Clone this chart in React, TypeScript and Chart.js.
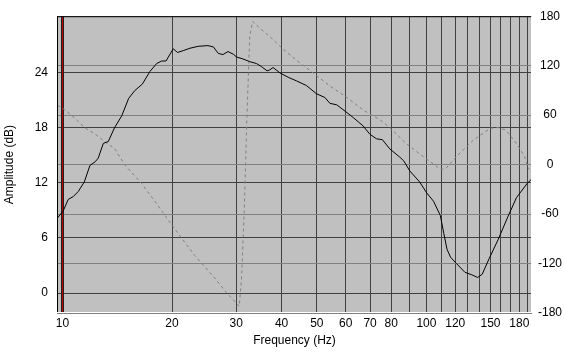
import React, { useEffect, useRef } from 'react';
import { Chart, registerables } from 'chart.js';
Chart.register(...registerables);

const ampFreq = [9.7, 10.05, 10.37, 10.7, 11.05, 11.48, 11.9, 12.3, 12.54, 12.95, 13.36, 13.9, 14.55, 15.2, 15.8, 16.57, 17.4, 18.15, 18.73, 19.25, 20.15, 20.7, 21.47, 22.4, 23.6, 25.1, 25.98, 26.8, 27.6, 28.5, 29.5, 30.1, 31.3, 32.7, 34.1, 35.2, 36.5, 37.1, 37.9, 39.6, 41.7, 44.0, 46.8, 49.9, 52.6, 54.3, 56.7, 59.8, 63.0, 67.0, 69.9, 72.9, 75.7, 79.3, 84.5, 86.6, 90.0, 95.8, 100.2, 104.6, 109.2, 111.6, 113.9, 116.5, 121.0, 127.6, 133.3, 138.2, 142.3, 148.6, 157.3, 167.2, 176.8, 188.8, 195.5];
const ampDb = [8.2, 8.96, 10.2, 10.5, 11.06, 12.1, 13.9, 14.3, 14.7, 16.3, 16.5, 18.0, 19.3, 21.2, 22.05, 22.75, 24.15, 25.0, 25.27, 25.27, 26.6, 26.2, 26.4, 26.66, 26.87, 26.95, 26.8, 26.1, 25.97, 26.3, 26.0, 25.7, 25.5, 25.2, 25.0, 24.67, 24.2, 24.3, 24.56, 23.97, 23.5, 23.1, 22.6, 21.7, 21.3, 20.66, 20.5, 19.8, 19.1, 18.2, 17.3, 16.8, 16.7, 15.7, 14.8, 14.4, 13.3, 12.1, 10.9, 10.0, 8.44, 6.5, 4.77, 3.9, 3.2, 2.26, 1.99, 1.7, 2.05, 3.73, 5.8, 8.27, 10.4, 11.9, 12.5];

const phaseFreq = [9.7, 10.16, 10.8, 11.5, 12.3, 13.1, 13.9, 14.8, 16.5, 17.95, 19.7, 20.15, 23.1, 26.2, 28.2, 30.6, 31.05, 31.6, 32.1, 32.7, 33.3, 34.9, 37.1, 40.4, 44.0, 48.9, 54.3, 60.3, 67.0, 74.4, 79.3, 88.0, 97.9, 109.2, 112.6, 121, 134.3, 149.9, 157.4, 165.5, 176.8, 186, 190, 192];
const phaseDeg = [72, 66.2, 56.5, 44.9, 37, 27.4, 19.6, 0.2, -23, -44.5, -69.7, -75.5, -110.4, -137.6, -155, -171.8, -137.6, -52.6, 54.6, 155.5, 173.6, 165.2, 155.5, 140, 126.4, 111, 95.3, 81.8, 66.2, 54.6, 44.9, 25.4, 9.9, -5.6, -5.6, 9.9, 29.4, 44.1, 45, 41.7, 25.4, 9.9, -3.7, -5.6];

const xGrid = [10, 20, 30, 40, 50, 60, 70, 80, 90, 100, 110, 120, 130, 140, 150, 160, 170, 180, 190];
const xLabels = [10, 20, 30, 40, 50, 60, 70, 80, 100, 120, 150, 180];
const ampTicks = [0, 6, 12, 18, 24];
const phaseTicks = [-180, -120, -60, 0, 60, 120, 180];
const markerFreq = 10;

const FONT = { family: '"Liberation Sans", Arial, sans-serif', size: 12 };

export default function App() {
  const ref = useRef<HTMLCanvasElement>(null);
  useEffect(() => {
    document.body.style.margin = '0';
    const plugin = {
      id: 'frame',
      beforeDraw(chart: any) {
        const { ctx, chartArea: a } = chart;
        ctx.save();
        ctx.fillStyle = '#ffffff';
        ctx.fillRect(0, 0, chart.width, chart.height);
        ctx.fillStyle = '#c0c0c0';
        ctx.fillRect(a.left, a.top, a.right - a.left, a.bottom - a.top);
        ctx.restore();
      },
      beforeDatasetsDraw(chart: any) {
        const { ctx, chartArea: a } = chart;
        const px = Math.floor(chart.scales.x.getPixelForValue(markerFreq));
        ctx.save();
        ctx.fillStyle = '#202020';
        ctx.fillRect(px - 1, a.top, 3, a.bottom - a.top);
        ctx.fillStyle = '#c00000';
        ctx.fillRect(px, a.top, 1, a.bottom - a.top);
        ctx.restore();
      },
      afterDraw(chart: any) {
        const { ctx, chartArea: a } = chart;
        ctx.save();
        ctx.fillStyle = '#000000';
        ctx.fillRect(a.left, a.top, a.right - a.left, 1);
        ctx.fillRect(a.left, a.top, 1, a.bottom - a.top);
        ctx.fillStyle = '#ffffff';
        ctx.fillRect(a.left, a.bottom - 1, a.right - a.left, 1);
        ctx.fillRect(a.right - 1, a.top, 1, a.bottom - a.top);
        ctx.restore();
      },
    };
    const chart = new Chart(ref.current as HTMLCanvasElement, {
      type: 'line',
      data: {
        datasets: [
          {
            data: ampFreq.map((f, i) => ({ x: f, y: ampDb[i] })),
            borderColor: '#000000',
            borderWidth: 1,
            pointRadius: 0,
            tension: 0,
            yAxisID: 'y',
          },
          {
            data: phaseFreq.map((f, i) => ({ x: f, y: phaseDeg[i] })),
            borderColor: '#808080',
            borderWidth: 1,
            borderDash: [3, 3],
            pointRadius: 0,
            tension: 0,
            yAxisID: 'y1',
          },
        ],
      },
      options: {
        responsive: false,
        animation: false,
        devicePixelRatio: 1,
        layout: { padding: { top: 4, left: 0, right: 0, bottom: 0 } },
        plugins: { legend: { display: false }, tooltip: { enabled: false } },
        scales: {
          x: {
            type: 'logarithmic',
            min: 9.66,
            max: 195,
            afterBuildTicks: (s: any) => {
              s.ticks = xGrid.map((v) => ({ value: v }));
            },
            afterFit: (s: any) => {
              s.height = 41;
            },
            grid: { color: '#404040', drawTicks: false },
            border: { display: false },
            ticks: {
              autoSkip: false,
              maxRotation: 0,
              padding: 3,
              color: '#000000',
              font: FONT,
              callback: (v: any) => (xLabels.includes(Number(v)) ? String(v) : ''),
            },
            title: {
              display: true,
              text: 'Frequency (Hz)',
              color: '#000000',
              font: FONT,
              padding: { top: 0, bottom: 6 },
            },
          },
          y: {
            type: 'linear',
            position: 'left',
            min: -2.17,
            max: 30.15,
            afterBuildTicks: (s: any) => {
              s.ticks = ampTicks.map((v) => ({ value: v }));
            },
            afterFit: (s: any) => {
              s.width = 57;
            },
            grid: { color: '#404040', drawTicks: false },
            border: { display: false },
            ticks: { padding: 9, color: '#000000', font: FONT },
            title: {
              display: true,
              text: 'Amplitude (dB)',
              color: '#000000',
              font: FONT,
              padding: { top: 2, bottom: 0 },
            },
          },
          y1: {
            type: 'linear',
            position: 'right',
            min: -180,
            max: 180,
            afterBuildTicks: (s: any) => {
              s.ticks = phaseTicks.map((v) => ({ value: v }));
            },
            afterFit: (s: any) => {
              s.width = 32;
            },
            grid: { color: '#808080', drawTicks: false },
            border: { display: false },
            ticks: { padding: 6, crossAlign: 'center', color: '#000000', font: FONT },
          },
        },
      },
      plugins: [plugin],
    } as any);
    return () => chart.destroy();
  }, []);
  return (
    <div style={{ width: 564, height: 354 }}>
      <canvas ref={ref} width={564} height={354} />
    </div>
  );
}
